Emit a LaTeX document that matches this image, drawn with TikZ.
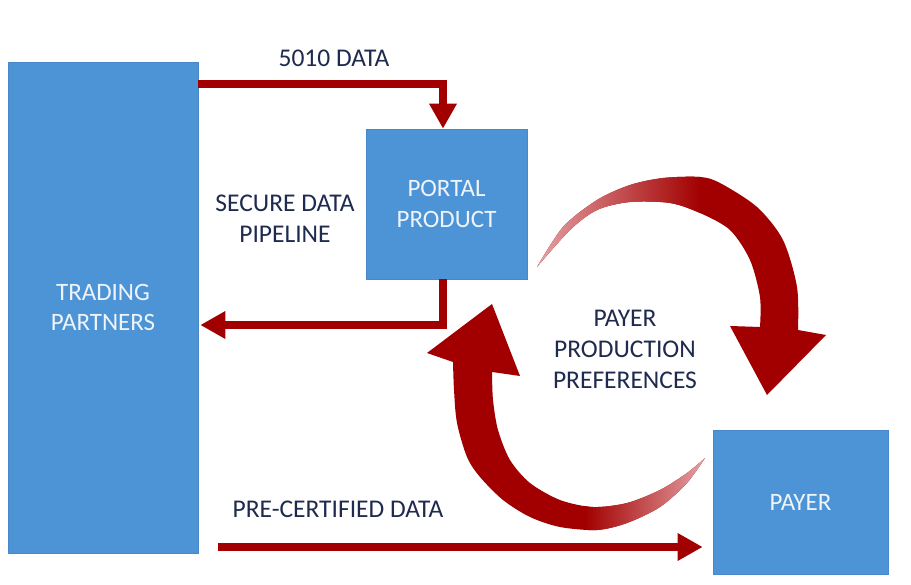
\documentclass[tikz,border=0pt]{standalone}
\usepackage{fontspec}
\setmainfont{Carlito}
\usetikzlibrary{arrows.meta}
\definecolor{boxblue}{RGB}{77,148,214}
\definecolor{boxedge}{RGB}{72,136,200}
\definecolor{flowred}{RGB}{162,0,0}
\definecolor{tailpink}{RGB}{232,168,172}
\definecolor{midpink}{RGB}{205,88,96}
\definecolor{labelnavy}{RGB}{30,42,78}
\definecolor{boxtext}{RGB}{238,244,250}
\begin{document}
\begin{tikzpicture}[x=1pt,y=-1pt,
  box/.style={draw=boxedge, line width=0.6pt, fill=boxblue, text=boxtext, align=center, inner sep=0pt, font=\fontsize{25}{30.5}\selectfont},
  lbl/.style={text=labelnavy, align=center, inner sep=0pt, font=\fontsize{25.5}{31}\selectfont},
  flow/.style={draw=flowred, line width=8.5pt, -{Triangle[length=25pt,width=26pt]}}
]
\useasboundingbox[fill=white] (0,0) rectangle (911,585);
% boxes
\node[box, minimum width=190pt, minimum height=491pt] (tp) at (103,307.5) {TRADING\\PARTNERS};
\node[box, minimum width=161pt, minimum height=150pt] (pp) at (446.5,204) {PORTAL\\PRODUCT};
\node[box, minimum width=175pt, minimum height=144pt] (py) at (800.5,502) {PAYER};
% straight connectors
\coordinate (a1) at (443,84);
\coordinate (a2) at (443,325);
\coordinate (a3) at (218,547);
\draw[flow] (tp.east |- a1) -- (a1) -- ([xshift=-3.5pt]pp.north);
\draw[flow, shorten >=2pt] ([xshift=-3.5pt]pp.south) -- (a2) -- (tp.east |- a2);
\draw[flow, shorten >=10pt] (a3) -- (py.west |- a3);
% labels
\node[lbl] (l5010) at (334,58) {5010 DATA};
\node[lbl] (lsec) at (285,219) {SECURE DATA\\PIPELINE};
\node[lbl] (lpay) at (625,349) {PAYER\\PRODUCTION\\PREFERENCES};
\node[lbl] (lpre) at (338,509) {PRE-CERTIFIED DATA};
% circular arrow, top (portal side to payer side)
\begin{scope}
\clip
  plot[smooth] coordinates {(537,267) (563,227) (597,200) (630,185) (663,178) (700,177) (720,183) (757,207) (783,240) (797,287) (798,330)}
  -- (826,335) -- (767,395) -- (730,326) --
  plot[smooth] coordinates {(760,327) (760,297) (750,260) (730,230) (700,213) (670,203) (630,202) (597,210) (570,230) (537,267)} -- cycle;
\fill[flowred] (520,160) rectangle (840,400);
\shade[left color=tailpink, middle color=midpink, right color=flowred] (530,160) rectangle (700,280);
\end{scope}
% circular arrow, bottom (payer side to portal side)
\begin{scope}
\clip
  plot[smooth] coordinates {(705,458) (687,483) (660,507) (627,523) (597,530) (560,527) (530,517) (503,500) (480,477) (467,457) (457,423) (454,390) (453,362)}
  -- (427,353) -- (492,304) -- (520,376) --
  plot[smooth] coordinates {(492,372) (493,400) (498,430) (510,460) (530,483) (560,500) (593,507) (627,503) (660,490) (687,473) (705,458)} -- cycle;
\fill[flowred] (420,290) rectangle (720,540);
\shade[left color=flowred, middle color=midpink, right color=tailpink] (585,440) rectangle (710,540);
\end{scope}
\end{tikzpicture}
\end{document}
